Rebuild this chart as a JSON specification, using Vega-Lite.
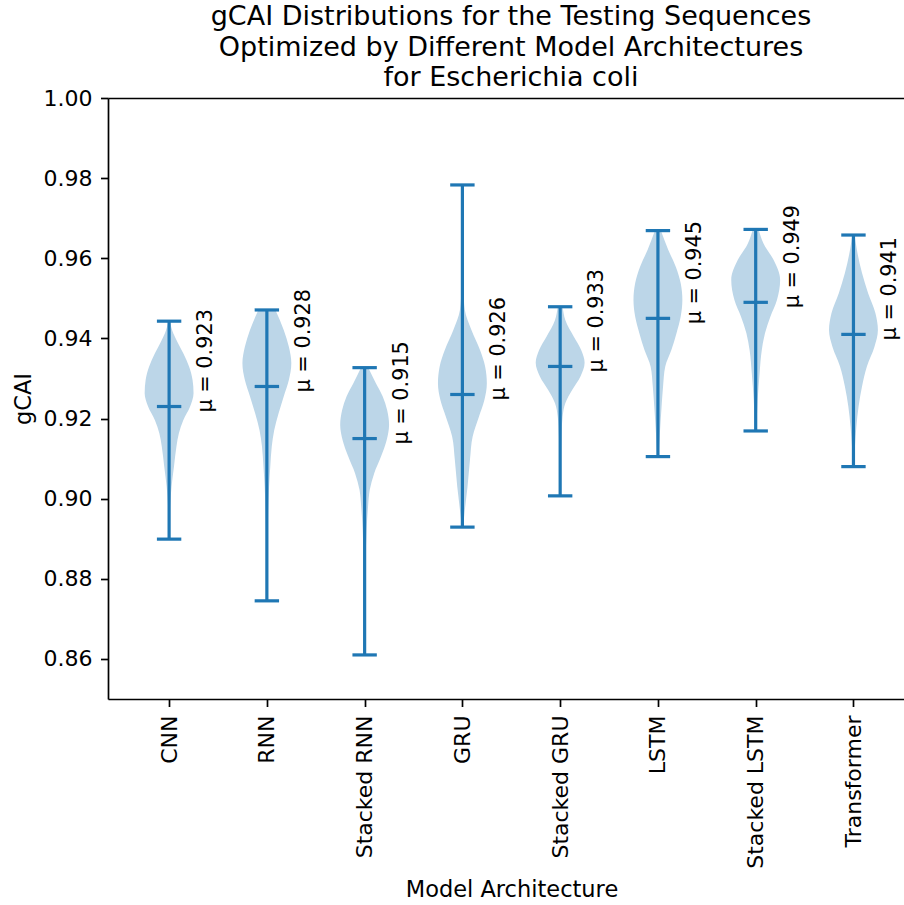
{
  "$schema": "https://vega.github.io/schema/vega-lite/v6.json",
  "autosize": "none",
  "width": 796,
  "height": 601,
  "padding": {"left": 108, "top": 98, "right": 0, "bottom": 206},
  "background": "white",
  "title": {
    "text": ["gCAI Distributions for the Testing Sequences", "Optimized by Different Model Architectures", "for Escherichia coli"],
    "font": "DejaVu Sans",
    "fontSize": 27,
    "fontWeight": "normal",
    "color": "black",
    "anchor": "middle",
    "dx": 5,
    "dy": 11,
    "lineHeight": 30.5,
    "offset": 6
  },
  "config": {
    "view": {"stroke": null},
    "axis": {
      "labelFont": "DejaVu Sans",
      "labelFontSize": 22,
      "labelColor": "black",
      "titleFont": "DejaVu Sans",
      "titleFontSize": 22.5,
      "titleFontWeight": "normal",
      "titleColor": "black",
      "tickColor": "black",
      "tickWidth": 1.7,
      "tickSize": 7.5,
      "domainColor": "black",
      "domainWidth": 1.7,
      "grid": false,
      "labelPadding": 8.5
    }
  },
  "datasets": {
    "violins": [
      {"m": "CNN", "p": 1, "v": 0.8899, "d": 0.01},
      {"m": "CNN", "p": 1, "v": 0.8980, "d": 0.04},
      {"m": "CNN", "p": 1, "v": 0.9030, "d": 0.10},
      {"m": "CNN", "p": 1, "v": 0.9080, "d": 0.20},
      {"m": "CNN", "p": 1, "v": 0.9130, "d": 0.30},
      {"m": "CNN", "p": 1, "v": 0.9163, "d": 0.40},
      {"m": "CNN", "p": 1, "v": 0.9196, "d": 0.58},
      {"m": "CNN", "p": 1, "v": 0.9230, "d": 0.86},
      {"m": "CNN", "p": 1, "v": 0.9263, "d": 1.00},
      {"m": "CNN", "p": 1, "v": 0.9296, "d": 0.96},
      {"m": "CNN", "p": 1, "v": 0.9329, "d": 0.82},
      {"m": "CNN", "p": 1, "v": 0.9363, "d": 0.58},
      {"m": "CNN", "p": 1, "v": 0.9390, "d": 0.35},
      {"m": "CNN", "p": 1, "v": 0.9413, "d": 0.17},
      {"m": "CNN", "p": 1, "v": 0.9443, "d": 0.03},

      {"m": "RNN", "p": 2, "v": 0.8745, "d": 0.01},
      {"m": "RNN", "p": 2, "v": 0.8880, "d": 0.03},
      {"m": "RNN", "p": 2, "v": 0.8964, "d": 0.05},
      {"m": "RNN", "p": 2, "v": 0.9030, "d": 0.09},
      {"m": "RNN", "p": 2, "v": 0.9080, "d": 0.14},
      {"m": "RNN", "p": 2, "v": 0.9130, "d": 0.20},
      {"m": "RNN", "p": 2, "v": 0.9171, "d": 0.30},
      {"m": "RNN", "p": 2, "v": 0.9213, "d": 0.48},
      {"m": "RNN", "p": 2, "v": 0.9255, "d": 0.69},
      {"m": "RNN", "p": 2, "v": 0.9296, "d": 0.90},
      {"m": "RNN", "p": 2, "v": 0.9338, "d": 1.00},
      {"m": "RNN", "p": 2, "v": 0.9379, "d": 0.90},
      {"m": "RNN", "p": 2, "v": 0.9421, "d": 0.69},
      {"m": "RNN", "p": 2, "v": 0.9471, "d": 0.35},

      {"m": "Stacked RNN", "p": 3, "v": 0.8610, "d": 0.01},
      {"m": "Stacked RNN", "p": 3, "v": 0.8715, "d": 0.02},
      {"m": "Stacked RNN", "p": 3, "v": 0.8840, "d": 0.04},
      {"m": "Stacked RNN", "p": 3, "v": 0.8922, "d": 0.08},
      {"m": "Stacked RNN", "p": 3, "v": 0.8980, "d": 0.14},
      {"m": "Stacked RNN", "p": 3, "v": 0.9022, "d": 0.21},
      {"m": "Stacked RNN", "p": 3, "v": 0.9063, "d": 0.39},
      {"m": "Stacked RNN", "p": 3, "v": 0.9105, "d": 0.67},
      {"m": "Stacked RNN", "p": 3, "v": 0.9146, "d": 0.90},
      {"m": "Stacked RNN", "p": 3, "v": 0.9184, "d": 1.00},
      {"m": "Stacked RNN", "p": 3, "v": 0.9221, "d": 0.92},
      {"m": "Stacked RNN", "p": 3, "v": 0.9255, "d": 0.74},
      {"m": "Stacked RNN", "p": 3, "v": 0.9288, "d": 0.46},
      {"m": "Stacked RNN", "p": 3, "v": 0.9327, "d": 0.15},

      {"m": "GRU", "p": 4, "v": 0.8929, "d": 0.03},
      {"m": "GRU", "p": 4, "v": 0.8972, "d": 0.10},
      {"m": "GRU", "p": 4, "v": 0.9030, "d": 0.21},
      {"m": "GRU", "p": 4, "v": 0.9097, "d": 0.31},
      {"m": "GRU", "p": 4, "v": 0.9155, "d": 0.42},
      {"m": "GRU", "p": 4, "v": 0.9205, "d": 0.68},
      {"m": "GRU", "p": 4, "v": 0.9246, "d": 0.90},
      {"m": "GRU", "p": 4, "v": 0.9288, "d": 1.00},
      {"m": "GRU", "p": 4, "v": 0.9330, "d": 0.93},
      {"m": "GRU", "p": 4, "v": 0.9371, "d": 0.72},
      {"m": "GRU", "p": 4, "v": 0.9421, "d": 0.37},
      {"m": "GRU", "p": 4, "v": 0.9471, "d": 0.10},
      {"m": "GRU", "p": 4, "v": 0.9520, "d": 0.04},
      {"m": "GRU", "p": 4, "v": 0.9571, "d": 0.02},
      {"m": "GRU", "p": 4, "v": 0.9650, "d": 0.01},
      {"m": "GRU", "p": 4, "v": 0.9783, "d": 0.005},

      {"m": "Stacked GRU", "p": 5, "v": 0.9007, "d": 0.02},
      {"m": "Stacked GRU", "p": 5, "v": 0.9080, "d": 0.03},
      {"m": "Stacked GRU", "p": 5, "v": 0.9155, "d": 0.05},
      {"m": "Stacked GRU", "p": 5, "v": 0.9205, "d": 0.10},
      {"m": "Stacked GRU", "p": 5, "v": 0.9238, "d": 0.21},
      {"m": "Stacked GRU", "p": 5, "v": 0.9271, "d": 0.49},
      {"m": "Stacked GRU", "p": 5, "v": 0.9305, "d": 0.83},
      {"m": "Stacked GRU", "p": 5, "v": 0.9339, "d": 1.00},
      {"m": "Stacked GRU", "p": 5, "v": 0.9371, "d": 0.86},
      {"m": "Stacked GRU", "p": 5, "v": 0.9404, "d": 0.56},
      {"m": "Stacked GRU", "p": 5, "v": 0.9446, "d": 0.21},
      {"m": "Stacked GRU", "p": 5, "v": 0.9479, "d": 0.10},

      {"m": "LSTM", "p": 6, "v": 0.9105, "d": 0.03},
      {"m": "LSTM", "p": 6, "v": 0.9163, "d": 0.08},
      {"m": "LSTM", "p": 6, "v": 0.9230, "d": 0.15},
      {"m": "LSTM", "p": 6, "v": 0.9280, "d": 0.21},
      {"m": "LSTM", "p": 6, "v": 0.9330, "d": 0.30},
      {"m": "LSTM", "p": 6, "v": 0.9371, "d": 0.55},
      {"m": "LSTM", "p": 6, "v": 0.9413, "d": 0.76},
      {"m": "LSTM", "p": 6, "v": 0.9454, "d": 0.93},
      {"m": "LSTM", "p": 6, "v": 0.9496, "d": 1.00},
      {"m": "LSTM", "p": 6, "v": 0.9538, "d": 0.93},
      {"m": "LSTM", "p": 6, "v": 0.9579, "d": 0.73},
      {"m": "LSTM", "p": 6, "v": 0.9621, "d": 0.42},
      {"m": "LSTM", "p": 6, "v": 0.9669, "d": 0.12},

      {"m": "Stacked LSTM", "p": 7, "v": 0.9169, "d": 0.03},
      {"m": "Stacked LSTM", "p": 7, "v": 0.9246, "d": 0.08},
      {"m": "Stacked LSTM", "p": 7, "v": 0.9313, "d": 0.16},
      {"m": "Stacked LSTM", "p": 7, "v": 0.9371, "d": 0.25},
      {"m": "Stacked LSTM", "p": 7, "v": 0.9413, "d": 0.38},
      {"m": "Stacked LSTM", "p": 7, "v": 0.9454, "d": 0.60},
      {"m": "Stacked LSTM", "p": 7, "v": 0.9496, "d": 0.87},
      {"m": "Stacked LSTM", "p": 7, "v": 0.9546, "d": 1.00},
      {"m": "Stacked LSTM", "p": 7, "v": 0.9596, "d": 0.73},
      {"m": "Stacked LSTM", "p": 7, "v": 0.9637, "d": 0.32},
      {"m": "Stacked LSTM", "p": 7, "v": 0.9672, "d": 0.12},

      {"m": "Transformer", "p": 8, "v": 0.9080, "d": 0.02},
      {"m": "Transformer", "p": 8, "v": 0.9130, "d": 0.06},
      {"m": "Transformer", "p": 8, "v": 0.9180, "d": 0.12},
      {"m": "Transformer", "p": 8, "v": 0.9230, "d": 0.21},
      {"m": "Transformer", "p": 8, "v": 0.9280, "d": 0.35},
      {"m": "Transformer", "p": 8, "v": 0.9330, "d": 0.55},
      {"m": "Transformer", "p": 8, "v": 0.9379, "d": 0.86},
      {"m": "Transformer", "p": 8, "v": 0.9421, "d": 1.00},
      {"m": "Transformer", "p": 8, "v": 0.9463, "d": 0.90},
      {"m": "Transformer", "p": 8, "v": 0.9513, "d": 0.60},
      {"m": "Transformer", "p": 8, "v": 0.9563, "d": 0.35},
      {"m": "Transformer", "p": 8, "v": 0.9621, "d": 0.14},
      {"m": "Transformer", "p": 8, "v": 0.9658, "d": 0.05}
    ],
    "stats": [
      {"m": "CNN", "p": 1, "min": 0.8899, "max": 0.9443, "mean": 0.923, "label": "μ = 0.923"},
      {"m": "RNN", "p": 2, "min": 0.8745, "max": 0.9471, "mean": 0.928, "label": "μ = 0.928"},
      {"m": "Stacked RNN", "p": 3, "min": 0.8610, "max": 0.9327, "mean": 0.915, "label": "μ = 0.915"},
      {"m": "GRU", "p": 4, "min": 0.8929, "max": 0.9783, "mean": 0.926, "label": "μ = 0.926"},
      {"m": "Stacked GRU", "p": 5, "min": 0.9007, "max": 0.9479, "mean": 0.933, "label": "μ = 0.933"},
      {"m": "LSTM", "p": 6, "min": 0.9105, "max": 0.9669, "mean": 0.945, "label": "μ = 0.945"},
      {"m": "Stacked LSTM", "p": 7, "min": 0.9169, "max": 0.9672, "mean": 0.949, "label": "μ = 0.949"},
      {"m": "Transformer", "p": 8, "min": 0.9080, "max": 0.9658, "mean": 0.941, "label": "μ = 0.941"}
    ]
  },
  "resolve": {"scale": {"x": "shared", "y": "shared"}, "axis": {"x": "independent", "y": "independent"}},
  "layer": [
    {
      "data": {"name": "violins"},
      "transform": [
        {"calculate": "datum.p - 0.25 * datum.d", "as": "lo"},
        {"calculate": "datum.p + 0.25 * datum.d", "as": "hi"}
      ],
      "mark": {"type": "area", "orient": "horizontal", "interpolate": "monotone", "color": "#bcd6e8", "opacity": 1},
      "encoding": {
        "y": {
          "field": "v", "type": "quantitative",
          "scale": {"domain": [0.85, 1.0], "nice": false, "zero": false},
          "axis": {"values": [0.86, 0.88, 0.90, 0.92, 0.94, 0.96, 0.98, 1.00], "format": ".2f", "title": "gCAI", "titleAngle": 270, "titleAlign": "center", "titleBaseline": "alphabetic", "titleX": -78, "titleY": 300.5, "labelFlush": false, "labelOverlap": false}
        },
        "x": {
          "field": "lo", "type": "quantitative",
          "scale": {"domain": [0.375, 8.517], "nice": false, "zero": false},
          "axis": {"values": [1, 2, 3, 4, 5, 6, 7, 8], "labelExpr": "['CNN','RNN','Stacked RNN','GRU','Stacked GRU','LSTM','Stacked LSTM','Transformer'][datum.value - 1]", "labelAngle": -90, "labelAlign": "right", "labelBaseline": "middle", "labelFlush": false, "labelOverlap": false, "title": "Model Architecture", "titleX": 403.5, "titleY": 197.5, "titleBaseline": "alphabetic", "titleAnchor": null}
        },
        "x2": {"field": "hi"},
        "detail": {"field": "m"}
      }
    },
    {
      "data": {"name": "stats"},
      "mark": {"type": "rule", "color": "#1f77b4", "strokeWidth": 3.2, "opacity": 1},
      "encoding": {
        "x": {"field": "p", "type": "quantitative", "axis": {"orient": "top", "labels": false, "ticks": false, "domain": true, "title": null, "values": []}},
        "y": {"field": "min", "type": "quantitative", "axis": null},
        "y2": {"field": "max"}
      }
    },
    {
      "data": {"name": "stats"},
      "mark": {"type": "tick", "orient": "horizontal", "color": "#1f77b4", "thickness": 3.2, "size": 24.4, "opacity": 1},
      "encoding": {
        "x": {"field": "p", "type": "quantitative", "axis": null},
        "y": {"field": "min", "type": "quantitative", "axis": null}
      }
    },
    {
      "data": {"name": "stats"},
      "mark": {"type": "tick", "orient": "horizontal", "color": "#1f77b4", "thickness": 3.2, "size": 24.4, "opacity": 1},
      "encoding": {
        "x": {"field": "p", "type": "quantitative", "axis": null},
        "y": {"field": "max", "type": "quantitative", "axis": null}
      }
    },
    {
      "data": {"name": "stats"},
      "mark": {"type": "tick", "orient": "horizontal", "color": "#1f77b4", "thickness": 3.2, "size": 24.4, "opacity": 1},
      "encoding": {
        "x": {"field": "p", "type": "quantitative", "axis": null},
        "y": {"field": "mean", "type": "quantitative", "axis": null}
      }
    },
    {
      "data": {"name": "stats"},
      "mark": {"type": "text", "angle": 270, "align": "left", "baseline": "middle", "dx": -6, "dy": 37, "font": "DejaVu Sans", "fontSize": 20.8, "color": "black"},
      "encoding": {
        "x": {"field": "p", "type": "quantitative", "axis": null},
        "y": {"field": "mean", "type": "quantitative", "axis": null},
        "text": {"field": "label"}
      }
    }
  ]
}
